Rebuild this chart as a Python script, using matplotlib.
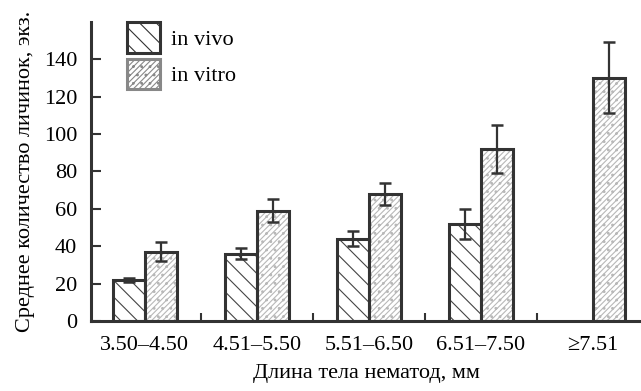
import matplotlib
matplotlib.use("Agg")
import matplotlib.pyplot as plt
from matplotlib.patches import Patch
from matplotlib.ticker import NullFormatter
import numpy as np

plt.rcParams['font.family'] = ['Liberation Serif', 'DejaVu Serif']
plt.rcParams['hatch.linewidth'] = 0.8

groups = ["3.50–4.50", "4.51–5.50", "5.51–6.50", "6.51–7.50", "≥7.51"]
vivo = [22, 36, 44, 52, None]
vivo_err = [1, 3, 4, 8, None]
vitro = [37, 59, 68, 92, 130]
vitro_err = [5, 6, 6, 13, 19]

fig = plt.figure(figsize=(6.41, 3.91), dpi=100)
ax = fig.add_axes([0.142, 0.179, 0.858, 0.765])

x = np.arange(len(groups))
w = 0.285
dark = '#333333'
vivo_hatch, vivo_hc = '\\\\', '#444444'
vitro_hatch, vitro_hc = '//////..', '#b8b8b8'

def draw(xpos, h, err, hatch, hcol):
    # hatch layer, then outline on top
    ax.bar(xpos, h, w, color='white', edgecolor=hcol, hatch=hatch, linewidth=0)
    ax.bar(xpos, h, w, fill=False, edgecolor=dark, linewidth=2.2)
    ax.errorbar(xpos, h, yerr=err, fmt='none', ecolor=dark, elinewidth=1.6,
                capsize=4, capthick=1.8)

for i in range(len(groups)):
    if vivo[i] is not None:
        draw(x[i] - w / 2, vivo[i], vivo_err[i], vivo_hatch, vivo_hc)
    draw(x[i] + w / 2, vitro[i], vitro_err[i], vitro_hatch, vitro_hc)

ax.set_xlim(-0.48, 4.43)
ax.set_ylim(0, 160)
ax.set_yticks(range(0, 141, 20))
ax.set_xticks(x)
ax.set_xticklabels(groups)
ax.set_xticks(x[:-1] + 0.5, minor=True)
ax.xaxis.set_minor_formatter(NullFormatter())
ax.tick_params(axis='x', which='major', length=0, pad=11, labelsize=16)
ax.tick_params(axis='x', which='minor', direction='in', length=6, width=1.5, color=dark)
ax.tick_params(axis='y', direction='in', length=7, width=1.5, color=dark, labelsize=16, pad=10)
for s in ['top', 'right']:
    ax.spines[s].set_visible(False)
for s in ['left', 'bottom']:
    ax.spines[s].set_linewidth(2.2)
    ax.spines[s].set_color(dark)

ax.set_xlabel("Длина тела нематод, мм", fontsize=16, labelpad=6)
ax.set_ylabel("Среднее количество личинок, экз.", fontsize=16, labelpad=6)

handles = [Patch(facecolor='white', edgecolor=dark, hatch=vivo_hatch, linewidth=2.2),
           Patch(facecolor='white', edgecolor='#888888', hatch=vitro_hatch, linewidth=2.2)]
ax.legend(handles, ["in vivo", "in vitro"], loc='upper left', bbox_to_anchor=(0.029, 1.065),
          frameon=False, fontsize=16, handlelength=1.5, handleheight=1.75,
          labelspacing=0.25, handletextpad=0.5)

fig.savefig("out.png", dpi=100)
